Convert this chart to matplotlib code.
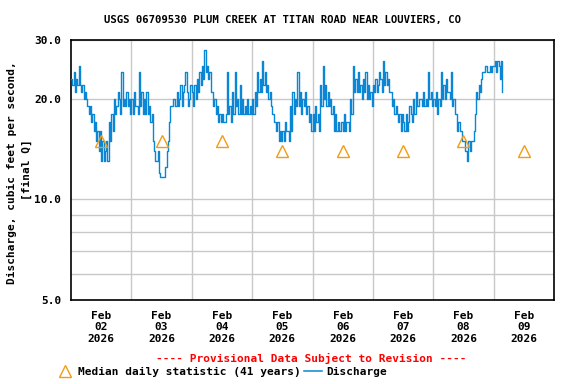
import matplotlib
matplotlib.use("Agg")
import matplotlib.pyplot as plt
import matplotlib.dates as mdates
from matplotlib.lines import Line2D
import matplotlib.ticker as mticker
import pandas as pd

# ---- data (30-minute discharge readings, cfs) ----
feb02 = [23, 22, 24, 21, 23, 22, 25, 22, 21, 22, 20, 21, 20, 19, 18, 19, 17, 18, 16, 17,
         15, 16, 14, 16, 13, 15, 13, 14, 15, 13, 17, 15, 18, 16, 20, 18, 19, 21, 20, 18,
         24, 19, 20, 19, 21, 19, 20, 18]
feb03 = [20, 18, 21, 19, 19, 18, 24, 19, 21, 18, 20, 18, 21, 18, 19, 17, 18, 15, 14, 13,
         13, 14, 12, 11.7, 11.7, 11.7, 11.7, 12.5, 14, 15, 17, 19, 19, 20, 20, 19, 21, 19,
         20, 22, 19, 21, 22, 24, 21, 19, 20, 22]
feb04 = [21, 19, 22, 20, 23, 21, 24, 22, 25, 23, 28, 24, 25, 23, 24, 21, 21, 19, 20, 18,
         19, 17, 18, 17, 18, 17, 17, 18, 24, 18, 19, 17, 21, 18, 24, 19, 20, 18, 22, 18,
         20, 18, 19, 18, 20, 18, 19, 18]
feb05 = [20, 18, 21, 19, 24, 21, 23, 21, 26, 22, 24, 21, 22, 20, 21, 19, 18, 17, 17, 16,
         17, 15, 16, 15, 16, 15, 17, 16, 16, 15, 19, 16, 21, 18, 20, 19, 24, 19, 21, 18,
         20, 19, 21, 18, 19, 17, 18, 16]
feb06 = [18, 16, 19, 17, 18, 16, 22, 19, 25, 20, 22, 19, 21, 19, 20, 18, 19, 16, 18, 16,
         17, 16, 16, 17, 16, 18, 16, 17, 17, 16, 20, 18, 25, 21, 23, 21, 24, 21, 22, 20,
         23, 21, 24, 20, 22, 20, 21, 19]
feb07 = [22, 21, 23, 21, 22, 24, 23, 21, 26, 22, 24, 22, 23, 21, 21, 19, 20, 18, 19, 18,
         17, 18, 16, 18, 17, 16, 18, 16, 17, 19, 18, 17, 20, 18, 21, 19, 19, 20, 20, 19,
         21, 19, 20, 19, 24, 20, 21, 19]
feb08 = [20, 19, 21, 18, 20, 19, 24, 20, 22, 20, 23, 21, 21, 20, 24, 19, 20, 18, 18, 16,
         17, 16, 16, 15, 15, 14, 14, 13, 15, 14, 15, 15, 16, 18, 21, 20, 22, 21, 23, 24,
         24, 25, 25, 24, 24, 25, 24, 25]
feb09 = [25, 26, 24, 26, 25, 23, 26, 21]

discharge = feb02 + feb03 + feb04 + feb05 + feb06 + feb07 + feb08 + feb09
median_days = ["2026-02-02", "2026-02-03", "2026-02-04", "2026-02-05",
               "2026-02-06", "2026-02-07", "2026-02-08", "2026-02-09"]
median_vals = [15, 15, 15, 14, 14, 14, 15, 14]
ytick_vals = [5, 10, 20, 30]
ytick_labels = ["5.0", "10.0", "20.0", "30.0"]

BLUE = "#0a86d4"
ORANGE = "#f39c12"
FONT = "DejaVu Sans Mono"

times = pd.date_range("2026-02-02 00:00", periods=len(discharge), freq="30min")
med_t = pd.to_datetime(median_days) + pd.Timedelta(hours=12)

fig = plt.figure(figsize=(5.76, 3.84), dpi=100)
ax = fig.add_axes([71/576, 1-300/384, (554-71)/576, (300-40)/384])

ax.plot(times, discharge, color=BLUE, lw=1.0, drawstyle="steps-post", zorder=3)
ax.plot(med_t, median_vals, ls="none", marker="^", mfc="none", mec=ORANGE,
        mew=1.0, ms=8, zorder=4)

ax.set_yscale("log")
ax.set_ylim(5, 30)
ax.yaxis.set_major_locator(mticker.FixedLocator(ytick_vals))
ax.yaxis.set_major_formatter(mticker.FixedFormatter(ytick_labels))
ax.yaxis.set_minor_locator(mticker.FixedLocator([6, 7, 8, 9]))
ax.yaxis.set_minor_formatter(mticker.NullFormatter())

ax.set_xlim(pd.Timestamp("2026-02-02"), pd.Timestamp("2026-02-10"))
ax.xaxis.set_major_locator(mticker.FixedLocator(mdates.date2num(list(med_t))))
ax.xaxis.set_major_formatter(mdates.DateFormatter("%b\n%d\n%Y"))
ax.xaxis.set_minor_locator(mticker.FixedLocator(
    mdates.date2num(list(pd.date_range("2026-02-03", "2026-02-09", freq="D")))))

ax.grid(False)
ax.yaxis.grid(True, which="both", color="#c8c8c8", lw=1.0)
ax.xaxis.grid(True, which="minor", color="#c8c8c8", lw=1.0)
ax.set_axisbelow(True)

ax.tick_params(axis="both", which="both", length=0)
ax.tick_params(axis="x", pad=8)
ax.tick_params(axis="y", pad=7)
for lab in ax.get_xticklabels() + ax.get_yticklabels():
    lab.set_fontfamily(FONT)
    lab.set_fontweight("bold")
    lab.set_fontsize(8)
for lab in ax.get_xticklabels():
    lab.set_linespacing(1.15)

for s in ax.spines.values():
    s.set_linewidth(1.2)
    s.set_color("black")

fig.text(282/576, 1-20/384, "USGS 06709530 PLUM CREEK AT TITAN ROAD NEAR LOUVIERS, CO",
         ha="center", va="center", fontfamily=FONT, fontweight="bold", fontsize=7.7)

fig.text(12/576, 1-173/384, "Discharge, cubic feet per second,",
         rotation=90, ha="center", va="center",
         fontfamily=FONT, fontweight="bold", fontsize=8)
fig.text(27/576, 1-170/384, "[final Q]",
         rotation=90, ha="center", va="center",
         fontfamily=FONT, fontweight="bold", fontsize=8)

fig.text(311/576, 1-358/384, "---- Provisional Data Subject to Revision ----",
         ha="center", va="center", color="red", fontfamily=FONT,
         fontweight="bold", fontsize=8)

handles = [Line2D([], [], ls="none", marker="^", mfc="none", mec=ORANGE, mew=1.0, ms=8),
           Line2D([], [], color=BLUE, lw=1.1)]
labels = ["Median daily statistic (41 years)", "Discharge"]
fig.legend(handles, labels, loc="center left", bbox_to_anchor=(56/576, 1-372/384),
           ncol=2, frameon=False, handlelength=1.6, handletextpad=0.4,
           columnspacing=0.3, borderpad=0, borderaxespad=0,
           prop={"family": FONT, "weight": "bold", "size": 8})

fig.savefig("out.png", dpi=100)
